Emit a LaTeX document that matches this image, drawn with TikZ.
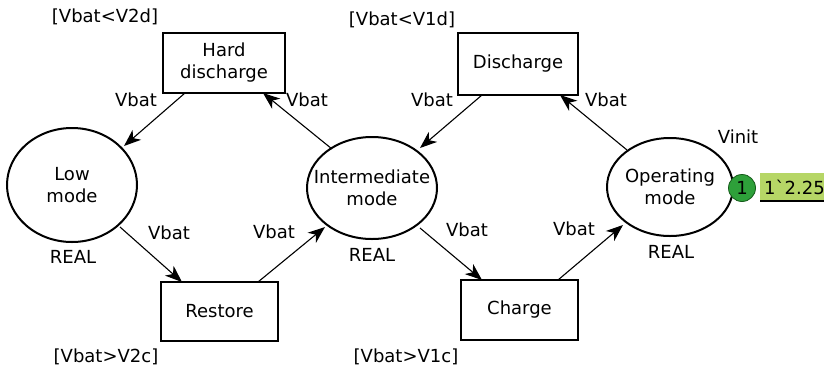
\documentclass[tikz,border=0pt]{standalone}
\usepackage{fontspec}
\setmainfont{DejaVu Sans}
\newfontfamily\rawfont{DejaVu Sans}
\usetikzlibrary{arrows.meta}
\definecolor{tokgreen}{RGB}{46,160,58}
\definecolor{tokdark}{RGB}{20,90,25}
\definecolor{markfill}{RGB}{182,214,102}
\begin{document}
\begin{tikzpicture}[x=1pt,y=-1pt,
  every node/.style={font=\fontsize{18}{22}\selectfont, inner sep=0pt},
  placeline/.style={line width=2pt},
  transline/.style={line width=2.6pt},
  conn/.style={line width=1.1pt, -{Stealth[length=17pt,width=13pt,inset=5pt]}}
]
\useasboundingbox (0,0) rectangle (824,370);
% places
\draw[placeline] (72,185) ellipse [x radius=65, y radius=57];
\node[align=center] (low) at (72,185) {Low\\mode};
\draw[placeline] (372,188) ellipse [x radius=65, y radius=51];
\node[align=center] (inter) at (372,188) {Intermediate\\mode};
\draw[placeline] (670,187) ellipse [x radius=63, y radius=49];
\node[align=center] (oper) at (670,187) {Operating\\mode};
% transitions
\draw[transline] (163,33) rectangle (285,93);
\node[align=center] (hard) at (224,63) {Hard\\discharge};
\draw[transline] (458,33) rectangle (578,95);
\node (dis) at (518,64) {Discharge};
\draw[transline] (161,282) rectangle (278,341);
\node (rest) at (219.5,311.5) {Restore};
\draw[transline] (461,280) rectangle (578,340);
\node (chg) at (519.5,310) {Charge};
% connector end points
\coordinate (hardBL) at (185,93);
\coordinate (hardBR) at (263,93);
\coordinate (disBL) at (482,95);
\coordinate (disBR) at (560,95);
\coordinate (restTL) at (182,282);
\coordinate (restTR) at (258,282);
\coordinate (chgTL) at (482,280);
\coordinate (chgTR) at (558,280);
\coordinate (lowUR) at (124,146);
\coordinate (lowLR) at (120,227);
\coordinate (interUL) at (332,149);
\coordinate (interUR) at (420,148);
\coordinate (interLL) at (325,227);
\coordinate (interLR) at (420,228);
\coordinate (operUL) at (627,150);
\coordinate (operLL) at (623,225);
% arcs
\draw[conn] (hardBL) -- (lowUR);
\draw[conn] (interUL) -- (hardBR);
\draw[conn] (disBL) -- (interUR);
\draw[conn] (operUL) -- (disBR);
\draw[conn] (lowLR) -- (restTL);
\draw[conn] (restTR) -- (interLL);
\draw[conn] (interLR) -- (chgTL);
\draw[conn] (chgTR) -- (operLL);
% labels
\node (g1) at (105,17) {[Vbat<V2d]};
\node (g2) at (402,20) {[Vbat<V1d]};
\node (g3) at (106,357) {[Vbat>V2c]};
\node (g4) at (406,357) {[Vbat>V1c]};
\node (v1) at (136,100) {Vbat};
\node (v2) at (307,100) {Vbat};
\node (v3) at (432,100) {Vbat};
\node (v4) at (606,100) {Vbat};
\node (v5) at (169,233) {Vbat};
\node (v6) at (274,232) {Vbat};
\node (v7) at (467,230) {Vbat};
\node (v8) at (574,229) {Vbat};
\node (r1) at (73,257) {REAL};
\node (r2) at (372,255) {REAL};
\node (r3) at (671,252) {REAL};
\node (vi) at (738,137) {Vinit};
% marking
\fill[markfill] (760,173) rectangle (830,201);
\draw[line width=1.5pt] (760,201) -- (830,201);
\node[anchor=west] (mk) at (764,187) {\rawfont 1`2.25};
\node[circle, fill=tokgreen, draw=tokdark, line width=0.8pt, minimum size=27pt] (tok) at (742,188) {1};
\end{tikzpicture}
\end{document}
